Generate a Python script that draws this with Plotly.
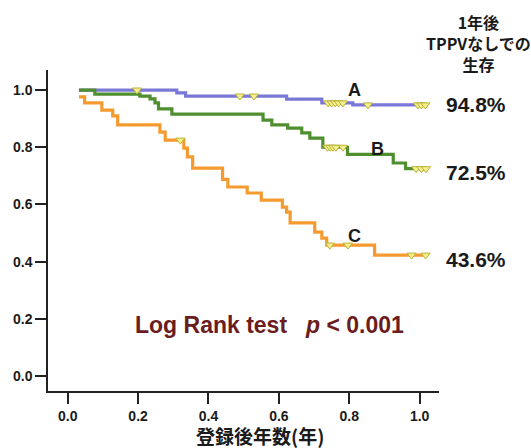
import numpy as np
import plotly.graph_objects as go

# Kaplan-Meier step data (time in years, survival fraction)
A_time = [0.032, 0.31, 0.335, 0.622, 0.722, 0.81, 1.022]
A_surv = [1.0, 0.99, 0.979, 0.968, 0.955, 0.948, 0.948]
A_censor = [0.197, 0.489, 0.529, 0.74, 0.75, 0.76, 0.77, 0.782, 0.853, 0.995, 1.005, 1.016]

B_time = [0.032, 0.077, 0.205, 0.234, 0.248, 0.258, 0.296, 0.555, 0.58, 0.625,
          0.665, 0.688, 0.725, 0.795, 0.925, 0.96, 1.022]
B_surv = [1.0, 0.986, 0.979, 0.969, 0.955, 0.934, 0.916, 0.895, 0.878, 0.867,
          0.85, 0.832, 0.80, 0.775, 0.745, 0.725, 0.725]
B_censor = [0.738, 0.746, 0.754, 0.762, 0.782, 0.99, 1.005, 1.018]

C_time = [0.032, 0.048, 0.097, 0.128, 0.142, 0.262, 0.277, 0.33, 0.34, 0.355,
          0.44, 0.455, 0.51, 0.55, 0.61, 0.622, 0.632, 0.702, 0.722, 0.736,
          0.872, 1.022]
C_surv = [0.976, 0.955, 0.93, 0.91, 0.878, 0.853, 0.825, 0.797, 0.766, 0.727,
          0.688, 0.661, 0.64, 0.615, 0.591, 0.573, 0.536, 0.503, 0.482, 0.458,
          0.423, 0.423]
C_censor = [0.32, 0.745, 0.796, 0.977, 1.017]

groups = ["A", "B", "C"]
one_year = ["94.8%", "72.5%", "43.6%"]
header_lines = ["1年後", "TPPVなしでの", "生存"]
x_ticks = [0.0, 0.2, 0.4, 0.6, 0.8, 1.0]
y_ticks = [0.0, 0.2, 0.4, 0.6, 0.8, 1.0]

colors = {"A": "#7a78d6", "B": "#4f8f2f", "C": "#f59a2e"}
series = {"A": (A_time, A_surv, A_censor),
          "B": (B_time, B_surv, B_censor),
          "C": (C_time, C_surv, C_censor)}


def step_value(times, surv, t):
    idx = np.searchsorted(np.array(times), t, side="right") - 1
    idx = np.clip(idx, 0, len(surv) - 1)
    return np.array(surv)[idx]


fig = go.Figure()
for g in groups:
    t, s, c = series[g]
    fig.add_trace(go.Scatter(x=t, y=s, mode="lines", line_shape="hv",
                             line=dict(color=colors[g], width=3.2),
                             showlegend=False, hoverinfo="skip"))
for g in groups:
    t, s, c = series[g]
    fig.add_trace(go.Scatter(x=c, y=step_value(t, s, c), mode="markers",
                             marker=dict(symbol="triangle-down", size=8,
                                         color="#f4ef8c",
                                         line=dict(color="#b9b23a", width=1)),
                             showlegend=False, hoverinfo="skip"))

bold = dict(family="Liberation Sans, Arial, sans-serif", color="#1a1a1a", weight="bold")
cjk = dict(family="Noto Sans CJK JP, sans-serif", color="#1a1a1a", weight="bold")

fig.update_layout(
    width=531, height=448,
    margin=dict(l=48, r=92, t=70, b=57),
    paper_bgcolor="white", plot_bgcolor="white",
    xaxis=dict(range=[-0.056, 1.055], tickvals=x_ticks,
               ticktext=[f"{v:.1f}" for v in x_ticks],
               showgrid=False, zeroline=False, showline=True,
               linecolor="#222", linewidth=1.5, ticks="outside",
               ticklen=11, tickwidth=1.5, tickcolor="#222",
               tickfont=dict(size=14, **bold)),
    yaxis=dict(range=[-0.052, 1.07], tickvals=y_ticks,
               ticktext=[f"{v:.1f}" for v in y_ticks],
               showgrid=False, zeroline=False, showline=True,
               linecolor="#222", linewidth=1.5, ticks="outside",
               ticklen=11, tickwidth=1.5, tickcolor="#222",
               tickfont=dict(size=14, **bold)),
)

# group labels
label_pos = {"A": (0.815, 1.0), "B": (0.88, 0.795), "C": (0.815, 0.49)}
for g in groups:
    x, y = label_pos[g]
    fig.add_annotation(x=x, y=y, text=g, showarrow=False, xanchor="center",
                       yanchor="middle", font=dict(size=18, **bold))

# 1-year survival values
pct_y = [0.951, 0.713, 0.409]
for v, y in zip(one_year, pct_y):
    fig.add_annotation(x=1.0, xref="paper", xshift=37, y=y, text=v,
                       showarrow=False, xanchor="center", yanchor="middle",
                       font=dict(size=21, **bold))

# header
fig.add_annotation(x=(478 - 48) / 391, y=(391 - 43) / 321, xref="paper", yref="paper",
                   text="<br>".join(header_lines), showarrow=False, xanchor="center",
                   yanchor="middle", align="center", font=dict(size=16, **cjk))

# Log rank text
lr_font = dict(size=23, family="Liberation Sans, Arial, sans-serif",
               color="#6a1c1e", weight="bold")
fig.add_annotation(x=0.407, y=0.178, text="Log Rank test", showarrow=False,
                   xanchor="center", yanchor="middle", font=lr_font)
fig.add_annotation(x=0.815, y=0.178, text="<i>p</i> < 0.001", showarrow=False,
                   xanchor="center", yanchor="middle", font=lr_font)

# x axis title
fig.add_annotation(x=(260 - 48) / 391, y=(391 - 435) / 321, xref="paper", yref="paper",
                   text="登録後年数(年)", showarrow=False, xanchor="center",
                   yanchor="middle", font=dict(size=19, **cjk))

fig.write_html("out.html", config={"displayModeBar": False},
               post_script="document.body.style.margin='0';document.body.style.padding='0';")
